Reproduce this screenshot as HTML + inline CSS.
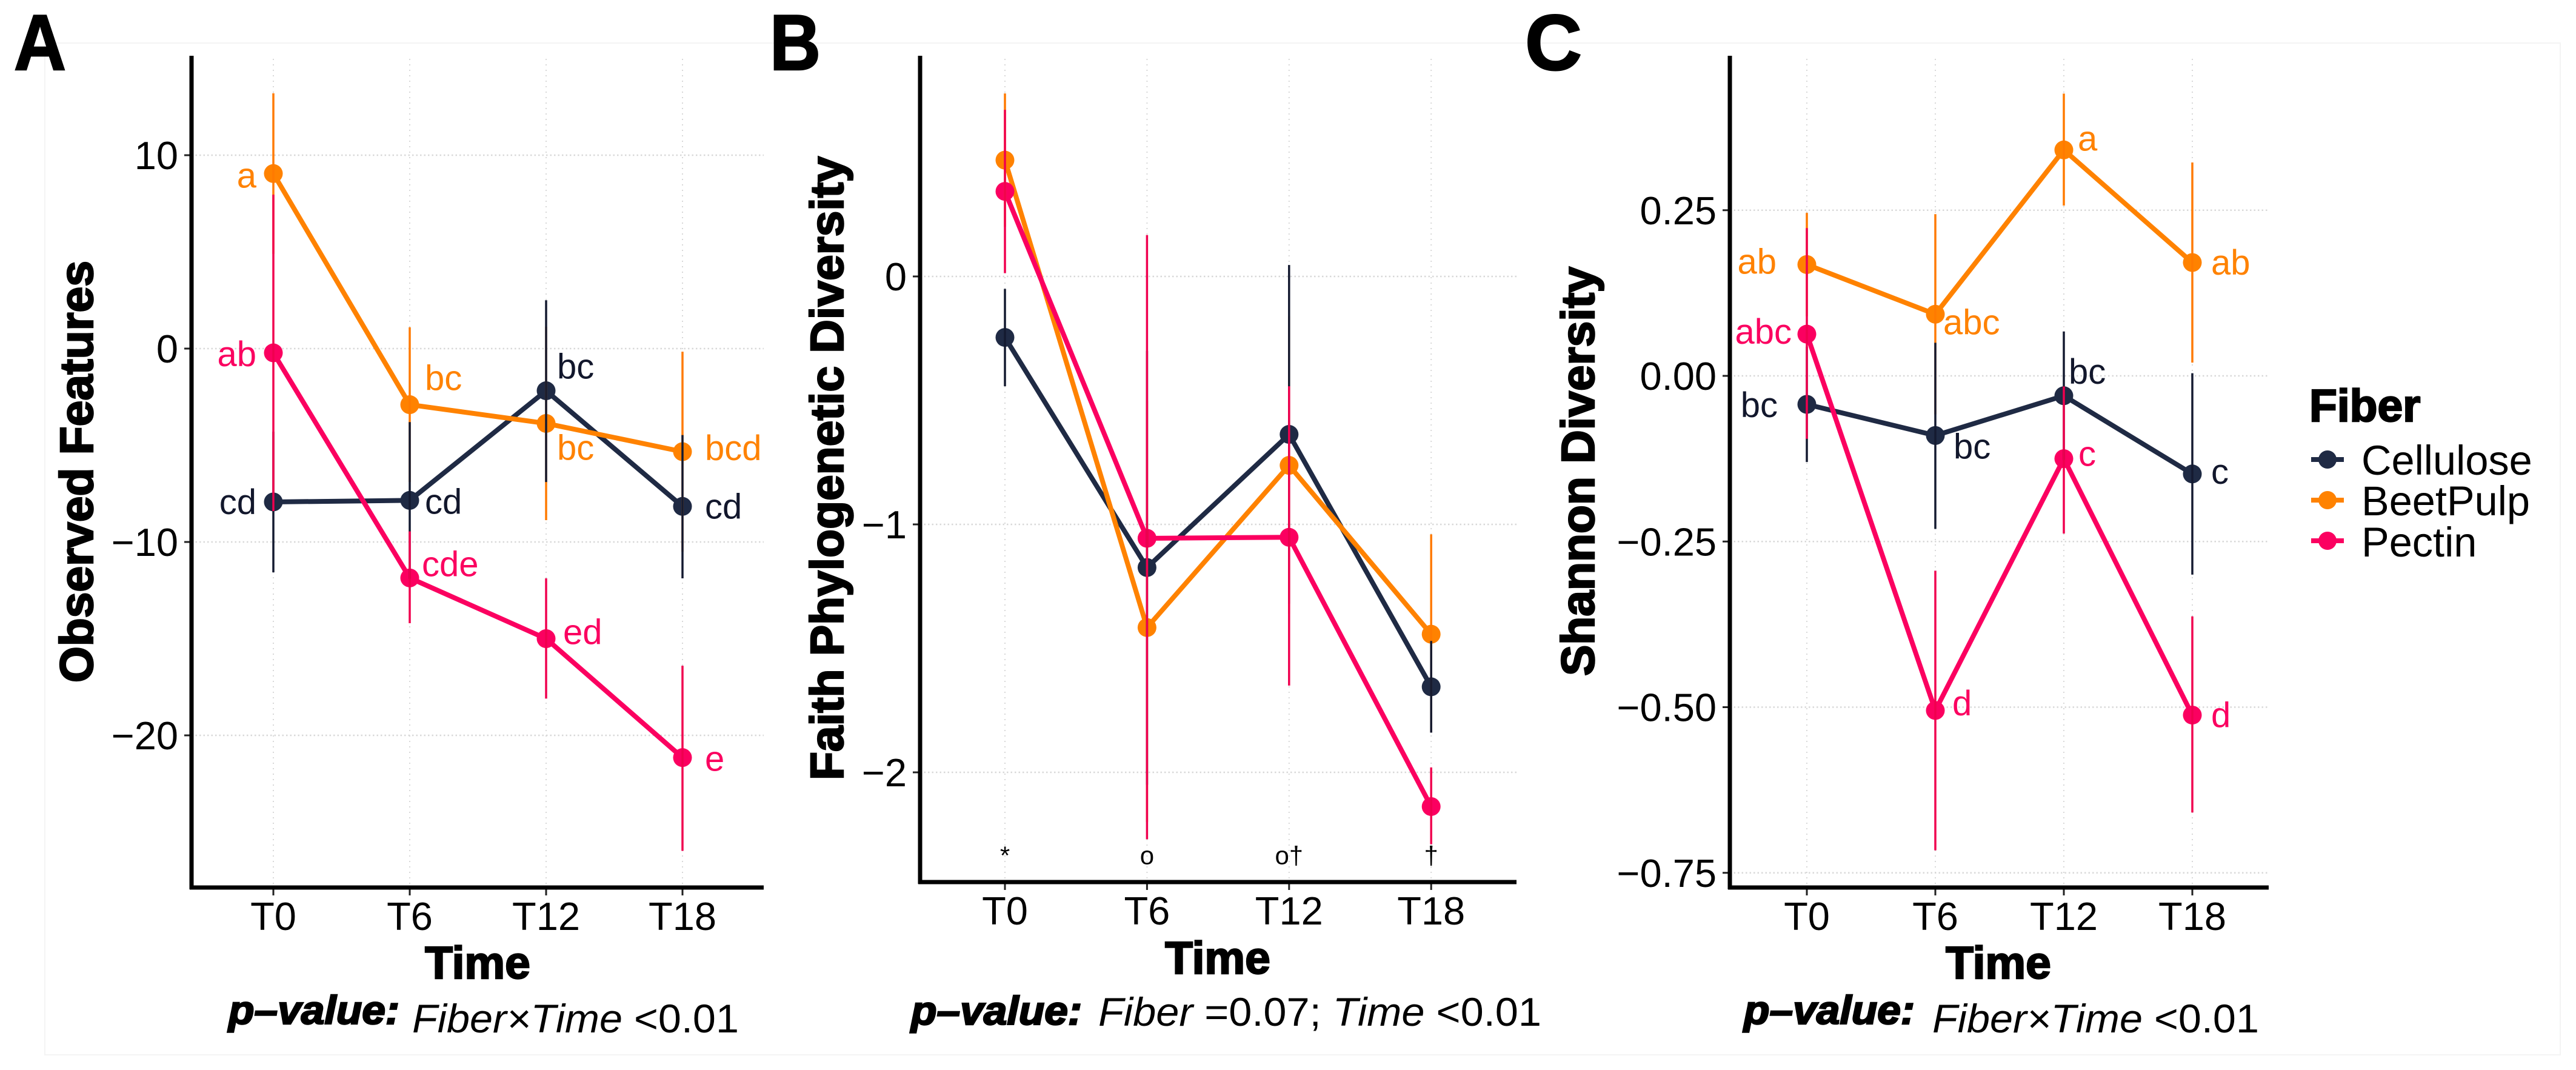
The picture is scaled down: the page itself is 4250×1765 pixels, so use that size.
<!DOCTYPE html>
<html lang="en">
<head>
<meta charset="utf-8">
<title>Alpha diversity by fiber over time</title>
<style>
  html, body { margin: 0; padding: 0; background: #fff; }
  svg { display: block; font-family: "Liberation Sans", Arial, sans-serif; }
  .heavy { font-weight: 700; fill: #000; stroke: #000; stroke-width: 2.5px; }
</style>
</head>
<body>
<svg id="chart" xmlns="http://www.w3.org/2000/svg" width="4250" height="1765" viewBox="0 0 4250 1765">
  <rect x="0" y="0" width="4250" height="1765" fill="#fff"/>
  <rect x="74" y="71" width="4150" height="1669" fill="none" stroke="#f4f4f4" stroke-width="2"/>

  <text class="heavy" x="23" y="115" font-size="130" textLength="86" lengthAdjust="spacingAndGlyphs">A</text>
  <text class="heavy" x="1270" y="115" font-size="130" textLength="84" lengthAdjust="spacingAndGlyphs">B</text>
  <text class="heavy" x="2516" y="115" font-size="130">C</text>

  <g id="panel-a"></g>
  <g id="panel-b"></g>
  <g id="panel-c"></g>

  <text class="heavy" font-size="77" transform="translate(153 1126) rotate(-90)" textLength="696" lengthAdjust="spacingAndGlyphs">Observed Features</text>
  <text class="heavy" font-size="77" transform="translate(1391 1287) rotate(-90)" textLength="1029" lengthAdjust="spacingAndGlyphs">Faith Phylogenetic Diversity</text>
  <text class="heavy" font-size="77" transform="translate(2630 1115) rotate(-90)" textLength="675" lengthAdjust="spacingAndGlyphs">Shannon Diversity</text>

  <text class="heavy" x="788" y="1614" font-size="75" text-anchor="middle">Time</text>
  <text class="heavy" x="2009" y="1606" font-size="75" text-anchor="middle">Time</text>
  <text class="heavy" x="3297" y="1614" font-size="75" text-anchor="middle">Time</text>

  <text class="heavy" x="377" y="1689" font-size="66" font-style="italic" textLength="282" lengthAdjust="spacingAndGlyphs">p–value:</text>
  <text x="680" y="1703" font-size="66" textLength="539" lengthAdjust="spacingAndGlyphs"><tspan font-style="italic">Fiber×Time</tspan> &lt;0.01</text>
  <text class="heavy" x="1503" y="1690" font-size="66" font-style="italic" textLength="282" lengthAdjust="spacingAndGlyphs">p–value:</text>
  <text x="1812" y="1692" font-size="66" textLength="731" lengthAdjust="spacingAndGlyphs"><tspan font-style="italic">Fiber</tspan> =0.07; <tspan font-style="italic">Time</tspan> &lt;0.01</text>
  <text class="heavy" x="2877" y="1689" font-size="66" font-style="italic" textLength="282" lengthAdjust="spacingAndGlyphs">p–value:</text>
  <text x="3188" y="1703" font-size="66" textLength="539" lengthAdjust="spacingAndGlyphs"><tspan font-style="italic">Fiber×Time</tspan> &lt;0.01</text>

  <g>
    <text class="heavy" x="3810" y="695" font-size="75">Fiber</text>
    <g>
      <line x1="3813" x2="3867" y1="758" y2="758" stroke="#1f2a44" stroke-width="8"/>
      <circle cx="3840" cy="758" r="15" fill="#1f2a44"/>
      <text x="3896" y="783" font-size="68.5">Cellulose</text>
    </g>
    <g>
      <line x1="3813" x2="3867" y1="825" y2="825" stroke="#ff8200" stroke-width="8"/>
      <circle cx="3840" cy="825" r="15" fill="#ff8200"/>
      <text x="3896" y="850" font-size="68.5">BeetPulp</text>
    </g>
    <g>
      <line x1="3813" x2="3867" y1="892" y2="892" stroke="#fb0060" stroke-width="8"/>
      <circle cx="3840" cy="892" r="15" fill="#fb0060"/>
      <text x="3896" y="918" font-size="68.5">Pectin</text>
    </g>
  </g>
</svg>

<script>
// ---------- shared categories ----------
const timeCategories = ['T0', 'T6', 'T12', 'T18'];

// ---------- Panel A: Observed Features ----------
const aTickValues = [10, 0, -10, -20];
const aTickLabels = ['10', '0', '−10', '−20'];
const aCelluloseMean = [-7.93, -7.85, -2.18, -8.16];
const aCelluloseLow = [-11.57, -11.9, -6.9, -11.88];
const aCelluloseHigh = [-4.3, -3.8, 2.5, -4.47];
const aBeetMean = [9.05, -2.9, -3.87, -5.33];
const aBeetLow = [4.9, -6.9, -8.87, -10.5];
const aBeetHigh = [13.2, 1.1, 1.13, -0.16];
const aPectinMean = [-0.22, -11.86, -15.0, -21.15];
const aPectinLow = [-8.4, -14.2, -18.1, -25.97];
const aPectinHigh = [7.96, -9.45, -11.88, -16.4];
const aCelluloseLetters = ['cd', 'cd', 'bc', 'cd'];
const aBeetLetters = ['a', 'bc', 'bc', 'bcd'];
const aPectinLetters = ['ab', 'cde', 'ed', 'e'];

// ---------- Panel B: Faith Phylogenetic Diversity ----------
const bTickValues = [0, -1, -2];
const bTickLabels = ['0', '−1', '−2'];
const bCelluloseMean = [-0.246, -1.174, -0.637, -1.655];
const bCelluloseLow = [-0.443, -2.05, -1.32, -1.84];
const bCelluloseHigh = [-0.05, -0.3, 0.046, -1.47];
const bBeetMean = [0.469, -1.416, -0.762, -1.443];
const bBeetLow = [0.2, -2.2, -1.36, -1.84];
const bBeetHigh = [0.738, -0.5, -0.16, -1.04];
const bPectinMean = [0.343, -1.056, -1.052, -2.138];
const bPectinLow = [0.013, -2.27, -1.65, -2.29];
const bPectinHigh = [0.672, 0.167, -0.443, -1.98];
const bTimeMarkers = ['*', 'o', 'o†', '†'];
const bMarkerLevel = -2.37;

// ---------- Panel C: Shannon Diversity ----------
const cTickValues = [0.25, 0, -0.25, -0.5, -0.75];
const cTickLabels = ['0.25', '0.00', '−0.25', '−0.50', '−0.75'];
const cCelluloseMean = [-0.043, -0.09, -0.03, -0.148];
const cCelluloseLow = [-0.13, -0.231, -0.127, -0.30];
const cCelluloseHigh = [0.044, 0.05, 0.067, 0.004];
const cBeetMean = [0.168, 0.093, 0.341, 0.171];
const cBeetLow = [0.09, -0.058, 0.257, 0.02];
const cBeetHigh = [0.246, 0.244, 0.426, 0.322];
const cPectinMean = [0.063, -0.505, -0.125, -0.512];
const cPectinLow = [-0.095, -0.716, -0.238, -0.659];
const cPectinHigh = [0.223, -0.294, -0.016, -0.363];
const cCelluloseLetters = ['bc', 'bc', 'bc', 'c'];
const cBeetLetters = ['ab', 'abc', 'a', 'ab'];
const cPectinLetters = ['abc', 'd', 'c', 'd'];

// ---------- drawing ----------
const SVG_NS = 'http://www.w3.org/2000/svg';
const NAVY = '#1f2a44', ORANGE = '#ff8200', PINK = '#fb0060', INK = '#12172c';

function mk(parent, tag, attrs, text) {
  const node = document.createElementNS(SVG_NS, tag);
  for (const key in attrs) node.setAttribute(key, attrs[key]);
  if (text !== undefined) node.textContent = text;
  parent.appendChild(node);
  return node;
}

function drawFrame(g, p) {
  const xs = p.xScale, ys = p.yScale;
  timeCategories.forEach((cat, i) => {
    const grid = mk(g, 'line', {x1: xs(i), x2: xs(i), y1: 97, y2: p.axisY, stroke: '#d8d8d8', 'stroke-width': 2, 'stroke-dasharray': '2 7'});
    
    
  });
  p.tickValues.forEach((v, i) => {
    const grid = mk(g, 'line', {x1: p.axisX, x2: p.rightX, y1: ys(v), y2: ys(v), stroke: '#d8d8d8', 'stroke-width': 2.5, 'stroke-dasharray': '2.5 4'});
    
    
    const tick = mk(g, 'line', {x1: p.axisX - 12, x2: p.axisX, y1: ys(v), y2: ys(v), stroke: '#222', 'stroke-width': 3});
    
    
    const label = mk(g, 'text', {x: p.axisX - 22, y: ys(v) + 23, 'text-anchor': 'end', 'font-size': 65, fill: '#000'}, p.tickLabels[i]);
    
    
  });
  timeCategories.forEach((cat, i) => {
    const tick = mk(g, 'line', {x1: xs(i), x2: xs(i), y1: p.axisY, y2: p.axisY + 13, stroke: '#222', 'stroke-width': 3});
    
    
    const label = mk(g, 'text', {x: xs(i), y: p.axisY + 70, 'text-anchor': 'middle', 'font-size': 65, fill: '#000'}, cat);
    
    
  });
  const yAxis = mk(g, 'line', {x1: p.axisX, x2: p.axisX, y1: 92, y2: p.axisY + 3, stroke: '#000', 'stroke-width': 7});
  
  
  const xAxis = mk(g, 'line', {x1: p.axisX - 3, x2: p.rightX, y1: p.axisY, y2: p.axisY, stroke: '#000', 'stroke-width': 7});
  
  
}

function drawSeriesLine(g, p, means, color) {
  const pts = means.map((v, i) => p.xScale(i) + ',' + p.yScale(v)).join(' ');
  const line = mk(g, 'polyline', {points: pts, fill: 'none', stroke: color, 'stroke-width': 8, 'stroke-linejoin': 'round'});
  
  
  means.forEach((v, i) => {
    const dot = mk(g, 'circle', {cx: p.xScale(i), cy: p.yScale(v), r: 15.5, fill: color});
    
    
  });
}

function drawErrorBars(g, p, lows, highs, color) {
  lows.forEach((low, i) => {
    const bar = mk(g, 'line', {x1: p.xScale(i), x2: p.xScale(i), y1: p.yScale(highs[i]), y2: p.yScale(low), stroke: color, 'stroke-width': 3.5});
    
    
  });
}

function drawLetters(g, p, means, letters, color, nudges) {
  letters.forEach((txt, i) => {
    const n = nudges[i];
    const label = mk(g, 'text', {x: p.xScale(i) + n.dx, y: p.yScale(means[i]) + n.dy, 'text-anchor': n.anchor, 'font-size': 58, fill: color}, txt);
    
    
  });
}

function drawPanel(id, p, s) {
  const g = document.getElementById(id);
  drawFrame(g, p);
  drawSeriesLine(g, p, s.cellMean, NAVY);
  drawSeriesLine(g, p, s.beetMean, ORANGE);
  drawSeriesLine(g, p, s.pectMean, PINK);
  drawErrorBars(g, p, s.beetLow, s.beetHigh, '#ff7a00');
  drawErrorBars(g, p, s.cellLow, s.cellHigh, '#141a30');
  drawErrorBars(g, p, s.pectLow, s.pectHigh, '#f0004f');
  return g;
}

function linearX(x0, step) { return i => x0 + i * step; }
function linearY(zeroY, perUnit) { return v => zeroY - v * perUnit; }

const panelA = {axisX: 316, axisY: 1464, rightX: 1260, xScale: linearX(451, 225), yScale: linearY(575, 31.9), tickValues: aTickValues, tickLabels: aTickLabels};
const panelB = {axisX: 1518, axisY: 1455, rightX: 2502, xScale: linearX(1658, 234.4), yScale: linearY(456, 409), tickValues: bTickValues, tickLabels: bTickLabels};
const panelC = {axisX: 2854, axisY: 1464, rightX: 3743, xScale: linearX(2981, 212), yScale: linearY(620, 1093), tickValues: cTickValues, tickLabels: cTickLabels};

const gA = drawPanel('panel-a', panelA, {cellMean: aCelluloseMean, cellLow: aCelluloseLow, cellHigh: aCelluloseHigh, beetMean: aBeetMean, beetLow: aBeetLow, beetHigh: aBeetHigh, pectMean: aPectinMean, pectLow: aPectinLow, pectHigh: aPectinHigh});
const gB = drawPanel('panel-b', panelB, {cellMean: bCelluloseMean, cellLow: bCelluloseLow, cellHigh: bCelluloseHigh, beetMean: bBeetMean, beetLow: bBeetLow, beetHigh: bBeetHigh, pectMean: bPectinMean, pectLow: bPectinLow, pectHigh: bPectinHigh});
const gC = drawPanel('panel-c', panelC, {cellMean: cCelluloseMean, cellLow: cCelluloseLow, cellHigh: cCelluloseHigh, beetMean: cBeetMean, beetLow: cBeetLow, beetHigh: cBeetHigh, pectMean: cPectinMean, pectLow: cPectinLow, pectHigh: cPectinHigh});

// Label placement relative to each point (layout only).
function at(anchor, dx, dy) { return {anchor, dx, dy}; }
drawLetters(gA, panelA, aBeetMean, aBeetLetters, ORANGE, [at('end', -28, 23), at('start', 25, -24), at('start', 18, 60), at('start', 37, 14)]);
drawLetters(gA, panelA, aCelluloseMean, aCelluloseLetters, INK, [at('end', -28, 20), at('start', 25, 22), at('start', 18, -20), at('start', 37, 20)]);
drawLetters(gA, panelA, aPectinMean, aPectinLetters, PINK, [at('end', -28, 22), at('start', 20, -3), at('start', 28, 9), at('start', 37, 22)]);
drawLetters(gC, panelC, cBeetMean, cBeetLetters, ORANGE, [at('end', -50, 15), at('start', 13, 33), at('start', 23, 1), at('start', 31, 20)]);
drawLetters(gC, panelC, cCelluloseMean, cCelluloseLetters, INK, [at('end', -48, 21), at('start', 30, 38), at('start', 8, -20), at('start', 31, 16)]);
drawLetters(gC, panelC, cPectinMean, cPectinLetters, PINK, [at('end', -25, 16), at('start', 28, 8), at('start', 24, 12), at('start', 31, 20)]);

bTimeMarkers.forEach((txt, i) => {
  const marker = mk(gB, 'text', {x: panelB.xScale(i), y: panelB.yScale(bMarkerLevel), 'text-anchor': 'middle', 'font-size': 42, fill: '#000'}, txt);
  
  
});
</script>
</body>
</html>
